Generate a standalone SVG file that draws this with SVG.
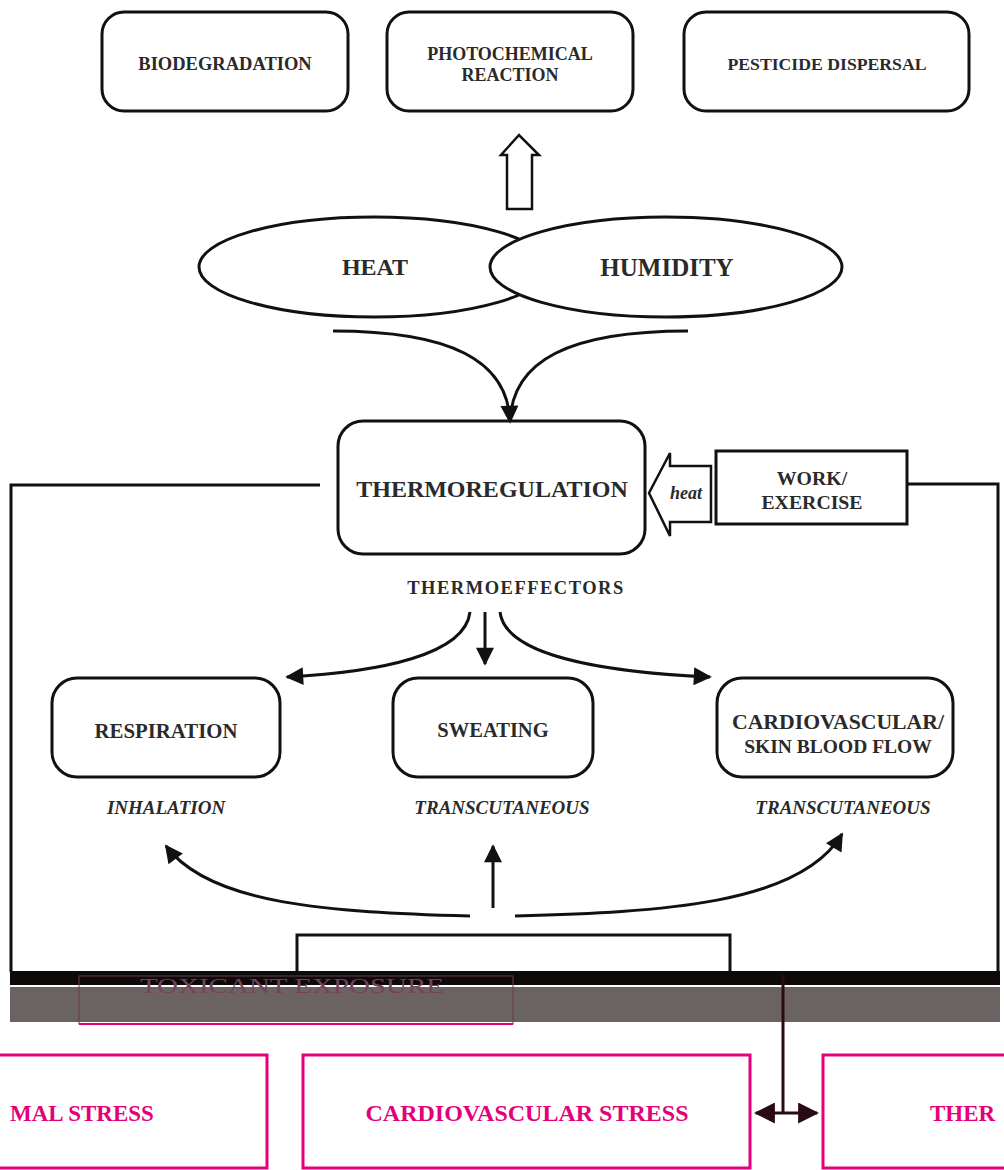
<svg xmlns="http://www.w3.org/2000/svg" width="1004" height="1170" viewBox="0 0 1004 1170">
<defs>
<style>
.box{fill:#fff;stroke:#111;stroke-width:3}
.line{fill:none;stroke:#111;stroke-width:3}
.t{font-family:"Liberation Serif",serif;font-weight:bold;fill:#2a2a2a;text-anchor:middle;dominant-baseline:central}
.i{font-family:"Liberation Serif",serif;font-weight:bold;font-style:italic;fill:#2a2a2a;text-anchor:middle;dominant-baseline:central}
.pink{fill:#fff;stroke:#e4007c;stroke-width:3}
.pt{font-family:"Liberation Serif",serif;font-weight:bold;fill:#e4007c;dominant-baseline:central}
</style>
<marker id="ah" viewBox="0 0 10 10" refX="9" refY="5" markerWidth="6.5" markerHeight="6" orient="auto-start-reverse" markerUnits="strokeWidth">
<path d="M0,0 L10,5 L0,10 z" fill="#111"/>
</marker>
<marker id="ah2" viewBox="0 0 10 10" refX="9" refY="5" markerWidth="7" markerHeight="7" orient="auto-start-reverse" markerUnits="strokeWidth">
<path d="M0,0 L10,5 L0,10 z" fill="#2a0a14"/>
</marker>
</defs>
<rect width="1004" height="1170" fill="#fff"/>

<g id="frame">
<path class="line" d="M320,485 H11 V972"/>
<path class="line" d="M907,484 H998 V972"/>
</g>

<g id="biodegradation"><rect class="box" x="102" y="12" width="246" height="99" rx="22"/><text class="t" x="225" y="64" font-size="18.5">BIODEGRADATION</text></g>
<g id="photochemical"><rect class="box" x="387" y="12" width="246" height="99" rx="22"/><text class="t" x="510" y="54" font-size="18">PHOTOCHEMICAL</text><text class="t" x="510" y="75" font-size="18">REACTION</text></g>
<g id="pesticide"><rect class="box" x="684" y="12" width="285" height="99" rx="22"/><text class="t" x="827" y="64" font-size="17.7">PESTICIDE DISPERSAL</text></g>

<g id="heat"><ellipse class="box" cx="374" cy="267" rx="175" ry="50"/><text class="t" x="375" y="267" font-size="24">HEAT</text></g>
<g id="humidity"><ellipse class="box" cx="666" cy="267" rx="176" ry="50"/><text class="t" x="667" y="267" font-size="25">HUMIDITY</text></g>

<g id="thermoregulation"><rect class="box" x="338" y="421" width="307" height="133" rx="25"/><text class="t" x="492" y="489" font-size="24">THERMOREGULATION</text></g>
<g id="work"><rect class="box" x="716" y="451" width="191" height="73"/><text class="t" x="812" y="478" font-size="19.8">WORK/</text><text class="t" x="812" y="502" font-size="19.8">EXERCISE</text></g>

<g id="thermoeffectors"><text class="t" x="516" y="588" font-size="18.5" letter-spacing="1.5">THERMOEFFECTORS</text></g>

<g id="respiration"><rect class="box" x="52" y="678" width="228" height="99" rx="25"/><text class="t" x="166" y="730" font-size="20.8">RESPIRATION</text></g>
<g id="sweating"><rect class="box" x="393" y="678" width="200" height="99" rx="25"/><text class="t" x="493" y="730" font-size="20.5">SWEATING</text></g>
<g id="cardio"><rect class="box" x="717" y="678" width="236" height="99" rx="25"/><text class="t" x="838" y="722" font-size="20" textLength="212" lengthAdjust="spacingAndGlyphs">CARDIOVASCULAR/</text><text class="t" x="838" y="746" font-size="19.5">SKIN BLOOD FLOW</text></g>

<g id="labels">
<text class="i" x="166" y="807" font-size="19">INHALATION</text>
<text class="i" x="502" y="807" font-size="19">TRANSCUTANEOUS</text>
<text class="i" x="843" y="807" font-size="19">TRANSCUTANEOUS</text>
</g>

<g id="toxicant"><rect class="box" x="297" y="935" width="433" height="45"/><text class="t" x="513" y="978" font-size="20" fill="#222">TOXICANT EXPOSURE</text></g>

<g id="connectors">
<path d="M507,209 V155 H501 L519,135 L539,155 H532 V209 Z" fill="#fff" stroke="#111" stroke-width="2.5"/>
<path class="line" d="M333,331 C450,331 508,360 510,422" marker-end="url(#ah)"/>
<path class="line" d="M688,331 C570,331 512,360 510,422"/>
<path d="M711,466 H670 V453 L649,493 L670,536 V522 H711 Z" fill="#fff" stroke="#111" stroke-width="2.5"/>
<text class="i" x="686" y="493" font-size="18">heat</text>
<path class="line" d="M470,612 C465,655 380,672 287,677" marker-end="url(#ah)"/>
<path class="line" d="M485,612 V664" marker-end="url(#ah)"/>
<path class="line" d="M500,612 C505,655 600,672 710,677" marker-end="url(#ah)"/>
<path class="line" d="M470,916 C330,912 210,905 166,846" marker-end="url(#ah)"/>
<path class="line" d="M493,908 V846" marker-end="url(#ah)"/>
<path class="line" d="M515,916 C660,912 800,905 842,834" marker-end="url(#ah)"/>
</g>

<g id="glitch">
<rect x="10" y="987" width="990" height="35" fill="#6b6361"/>
<rect x="10" y="971" width="990" height="14" fill="#0d0a08"/>
<rect x="79" y="976" width="434" height="48" fill="none" stroke="#6a3a5a" stroke-width="1"/>
<line x1="79" y1="1024" x2="513" y2="1024" stroke="#e4007c" stroke-width="2"/>
<text x="292" y="993" font-family="Liberation Serif,serif" font-size="29" fill="#74425c" text-anchor="middle" transform="translate(0,993) scale(1,0.75) translate(0,-993)">TOXICANT EXPOSURE</text>
<line x1="783" y1="975" x2="783" y2="1113" stroke="#2a0a14" stroke-width="3"/>
<line x1="756" y1="1113" x2="817" y2="1113" stroke="#2a0a14" stroke-width="3" marker-start="url(#ah2)" marker-end="url(#ah2)"/>
</g>

<g id="thermal-stress-left"><rect class="pink" x="-200" y="1055" width="467" height="113"/><text class="pt" x="10" y="1113" font-size="23">MAL STRESS</text></g>
<g id="cardiovascular-stress"><rect class="pink" x="303" y="1055" width="447" height="113"/><text class="pt" x="527" y="1113" font-size="24" text-anchor="middle">CARDIOVASCULAR STRESS</text></g>
<g id="thermal-stress-right"><rect class="pink" x="823" y="1055" width="300" height="113"/><text class="pt" x="930" y="1113" font-size="23">THER</text></g>
</svg>
